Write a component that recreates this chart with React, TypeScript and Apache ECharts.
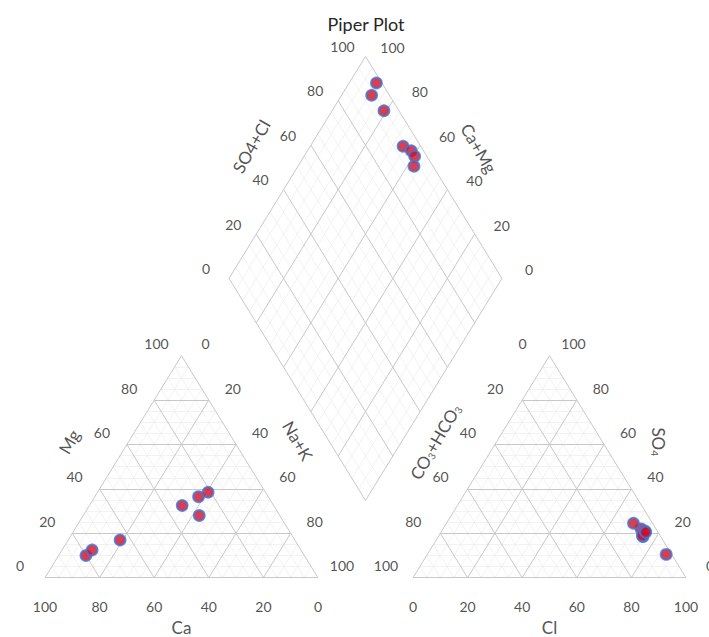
import React, { useEffect, useRef } from "react";
import * as echarts from "echarts";

// ---- data (percent of meq) ----
const sampleIds = ["S1", "S2", "S3", "S4", "S5", "S6", "S7"];
const caPct = [80, 76.5, 64, 33.5, 25.5, 21, 29.5];
const mgPct = [10, 12.5, 17, 32.5, 36.5, 38.5, 28];
const naKPct = [10, 11, 19, 34, 38, 40.5, 42.5];
const hco3Pct = [2, 6.5, 5.5, 6.5, 4.5, 4.5, 7];
const so4Pct = [10.5, 18.5, 22, 19, 21, 20.5, 24.5];
const clPct = [87.5, 75, 72.5, 74.5, 74.5, 75, 68.5];
const tickValues = [0, 20, 40, 60, 80, 100];

// ---- geometry in plot units (triangle side = 100 in x, height = 100 in y) ----
const GAP = 34.8;
const ANION_X = 100 + GAP;
const TOP = 200 + GAP;

const cationXY = (ca: number, mg: number, nak: number) => [nak + mg / 2, mg];
const anionXY = (hco3: number, so4: number, cl: number) => [ANION_X + cl + so4 / 2, so4];
const diamondXY = (nak: number, hco3: number) => {
  const t = TOP - hco3 - nak;
  return [nak + t / 2, t];
};

function triSegs(ox: number, step: number, major: boolean) {
  const out: number[][][] = [];
  for (let v = 0; v <= 100; v += step) {
    const isMajor = v % 20 === 0;
    if (isMajor !== major) continue;
    if (v < 100) out.push([[ox + v / 2, v], [ox + 100 - v / 2, v]]);
    if (v < 100) out.push([[ox + v, 0], [ox + v + (100 - v) / 2, 100 - v]]);
    if (v > 0) out.push([[ox + v, 0], [ox + v / 2, v]]);
  }
  return out;
}

function diamondSegs(step: number, major: boolean) {
  const out: number[][][] = [];
  const c = GAP / 2;
  for (let v = 0; v <= 100; v += step) {
    const isMajor = v % 20 === 0;
    if (isMajor !== major) continue;
    out.push([[50 + c + 0.5 * v, 100 + GAP - v], [100 + c + 0.5 * v, 200 + GAP - v]]);
    out.push([[100 + c - 0.5 * v, 200 + GAP - v], [150 + c - 0.5 * v, 100 + GAP - v]]);
  }
  return out;
}

const FONT = "Lato, 'Open Sans', sans-serif";
const TEXT = "#262626";

// label offset is applied in the rotated frame; convert a screen offset
function localOffset(d: number[], rotDeg: number) {
  const r = (rotDeg * Math.PI) / 180;
  const c = Math.cos(r);
  const s = Math.sin(r);
  return [d[0] * c - d[1] * s, d[0] * s + d[1] * c];
}

function labelItems(points: number[][], texts: string[], offset: number[], fontSize: number, rotate = 0, rich?: any) {
  return points.map((p, i) => ({
    value: p,
    label: {
      show: true,
      position: "inside",
      formatter: texts[i],
      offset: localOffset(offset, rotate),
      rotate,
      fontSize,
      fontFamily: FONT,
      color: TEXT,
      rich,
    },
  }));
}

export default function App() {
  const ref = useRef<HTMLDivElement>(null);
  useEffect(() => {
    if (!ref.current) return;
    const chart = echarts.init(ref.current, undefined, { renderer: "svg" });

    const minor = [...triSegs(0, 5, false), ...triSegs(ANION_X, 5, false), ...diamondSegs(5, false)];
    const major = [...triSegs(0, 5, true), ...triSegs(ANION_X, 5, true), ...diamondSegs(5, true)];

    const cationPts = sampleIds.map((_, i) => cationXY(caPct[i], mgPct[i], naKPct[i]));
    const anionPts = sampleIds.map((_, i) => anionXY(hco3Pct[i], so4Pct[i], clPct[i]));
    const diamondPts = sampleIds.map((_, i) => diamondXY(naKPct[i], hco3Pct[i]));

    const tt = tickValues.map(String);
    const TF = 14;
    const labels = [
      ...labelItems(tickValues.map((v) => [100 - v, 0]), tt, [0, 29], TF),
      ...labelItems(tickValues.map((v) => [v / 2, v]), tt, [-25, -12], TF),
      ...labelItems(tickValues.map((v) => [50 + v / 2, 100 - v]), tt, [24, -12], TF),
      ...labelItems(tickValues.map((v) => [ANION_X + v, 0]), tt, [0, 29], TF),
      ...labelItems(tickValues.map((v) => [ANION_X + (100 - v) / 2, 100 - v]), tt, [-27, -12], TF),
      ...labelItems(tickValues.map((v) => [ANION_X + 100 - v / 2, v]), tt, [24, -12], TF),
      ...labelItems(tickValues.map((v) => diamondXY(0, 100 - v)), tt, [-23, -10], TF),
      ...labelItems(tickValues.map((v) => diamondXY(100 - v, 0)), tt, [27, -9], TF),
    ];
    const TS = 17;
    const sub = {
      m: { fontSize: TS, fontFamily: FONT, color: TEXT },
      s: { fontSize: 10, fontFamily: FONT, color: TEXT, padding: [8, 0, 0, 0] },
    };
    const titles = [
      ...labelItems([[50, 0]], ["Ca"], [0, 50], TS),
      ...labelItems([[ANION_X + 50, 0]], ["Cl"], [0, 50], TS),
      ...labelItems([[25, 50]], ["Mg"], [-44, -25], TS, 60),
      ...labelItems([[75, 50]], ["Na+K"], [48, -26], TS, -60),
      ...labelItems([[ANION_X + 25, 50]], ["{m|CO}{s|3}{m|+HCO}{s|3}"], [-46, -25], TS, 60, sub),
      ...labelItems([[ANION_X + 75, 50]], ["{m|SO}{s|4}"], [41, -25], TS, -90, sub),
      ...labelItems([diamondXY(0, 50)], ["SO4+Cl"], [-46, -21], TS, 60),
      ...labelItems([diamondXY(50, 0)], ["Ca+Mg"], [45, -19], TS, -60),
    ];

    const pointStyle = {
      color: "#c8102e",
      borderColor: "#3d78d8",
      borderWidth: 1.8,
    };

    chart.setOption({
      animation: false,
      grid: { left: 45, right: 23, top: 56.4, bottom: 59.3 },
      xAxis: { type: "value", min: 0, max: TOP, show: false },
      yAxis: { type: "value", min: 0, max: TOP, show: false },
      graphic: [
        {
          type: "text",
          x: 366,
          y: 24,
          style: {
            text: "Piper Plot",
            fontSize: 18,
            fontFamily: FONT,
            fill: TEXT,
            textAlign: "center",
            textVerticalAlign: "middle",
          },
        },
      ],
      series: [
        {
          type: "lines",
          coordinateSystem: "cartesian2d",
          silent: true,
          lineStyle: { color: "#ececec", width: 0.7, opacity: 1 },
          data: minor.map((s) => ({ coords: s })),
        },
        {
          type: "lines",
          coordinateSystem: "cartesian2d",
          silent: true,
          lineStyle: { color: "#c8c8c8", width: 1, opacity: 1 },
          data: major.map((s) => ({ coords: s })),
        },
        {
          name: "Cations",
          type: "scatter",
          symbolSize: 11,
          itemStyle: pointStyle,
          data: cationPts,
        },
        {
          name: "Anions",
          type: "scatter",
          symbolSize: 11,
          itemStyle: pointStyle,
          data: anionPts,
        },
        {
          name: "Diamond",
          type: "scatter",
          symbolSize: 11,
          itemStyle: pointStyle,
          data: diamondPts,
        },
        {
          type: "scatter",
          silent: true,
          symbolSize: 1,
          itemStyle: { color: "rgba(0,0,0,0)" },
          data: [...labels, ...titles],
        },
      ],
    });
    return () => chart.dispose();
  }, []);
  return (
    <div
      ref={ref}
      style={{ position: "fixed", left: 0, top: 0, width: 709, height: 637, background: "#fff" }}
    />
  );
}
